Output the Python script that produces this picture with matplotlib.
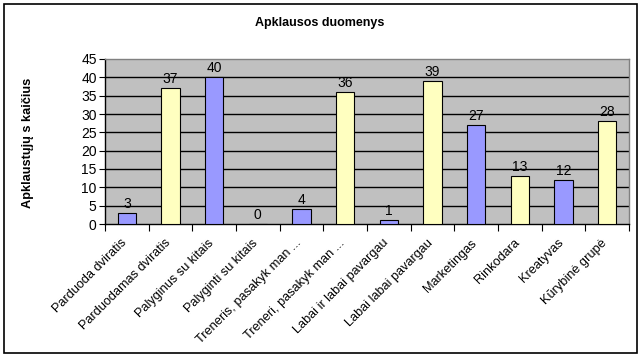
import matplotlib
matplotlib.use("Agg")
import matplotlib.pyplot as plt
from matplotlib.patches import Rectangle
from matplotlib.transforms import ScaledTranslation

categories = ["Parduoda dviratis", "Parduodamas dviratis", "Palyginus su kitais",
              "Palyginti su kitais", "Treneris, pasakyk man ...", "Treneri, pasakyk man ...",
              "Labai ir labai pavargau", "Labai labai pavargau", "Marketingas",
              "Rinkodara", "Kreatyvas", "Kūrybinė grupė"]
values = [3, 37, 40, 0, 4, 36, 1, 39, 27, 13, 12, 28]
yticks = [0, 5, 10, 15, 20, 25, 30, 35, 40, 45]
colors = ["#9999FF", "#FFFFC0"]

plt.rcParams['font.family'] = ['Liberation Sans', 'DejaVu Sans']

fig = plt.figure(figsize=(6.42, 3.58), dpi=100)
fig.patches.append(Rectangle((4/642, 5/358), 633/642, 349/358, transform=fig.transFigure,
                             fill=False, edgecolor='black', linewidth=1.2))
ax = fig.add_axes([105/642, 1-224/358, 524/642, 165/358])
ax.set_facecolor("#C0C0C0")

x = list(range(len(categories)))
bar_colors = [colors[i % 2] for i in x]
bars = ax.bar(x, values, width=0.42, color=bar_colors, edgecolor='black', linewidth=0.8, zorder=3)
for xi, v in zip(x, values):
    ax.text(xi, v + 0.6, str(v), ha='center', va='bottom', fontsize=10, zorder=4)

ax.set_xlim(-0.5, len(categories) - 0.5)
ax.set_ylim(0, 45)
ax.set_yticks(yticks)
ax.set_yticklabels([str(t) for t in yticks], fontsize=10)
for t in yticks[1:-1]:
    ax.axhline(t, color='black', linewidth=1, zorder=1)

ax.set_xticks([i - 0.5 for i in range(len(categories) + 1)], minor=False)
ax.set_xticklabels([])
ax.set_xticks(x, minor=True)
ax.set_xticklabels(categories, minor=True, rotation=45, ha='right', rotation_mode='anchor', fontsize=9.2)
ax.tick_params(axis='x', which='minor', length=0, pad=10)
ax.tick_params(axis='x', which='major', length=5, direction='out', color='black')
ax.tick_params(axis='y', length=4, direction='out', color='black', pad=2)
shift = ScaledTranslation(-6/100, 1/100, fig.dpi_scale_trans)
for lbl in ax.get_xticklabels(minor=True):
    lbl.set_transform(lbl.get_transform() + shift)

for s in ['top', 'right']:
    ax.spines[s].set_color('#808080')
    ax.spines[s].set_linewidth(1)
for s in ['left', 'bottom']:
    ax.spines[s].set_color('black')
    ax.spines[s].set_linewidth(1)

fig.text(320/642, 1-23/358, "Apklausos duomenys", ha='center', va='center', fontsize=9, fontweight='bold')
fig.text(28/642, 1-143/358, "Apklaustųjų s kaičius", ha='center', va='center', rotation=90,
         fontsize=9.2, fontweight='bold')

fig.savefig("out.png", dpi=100)
